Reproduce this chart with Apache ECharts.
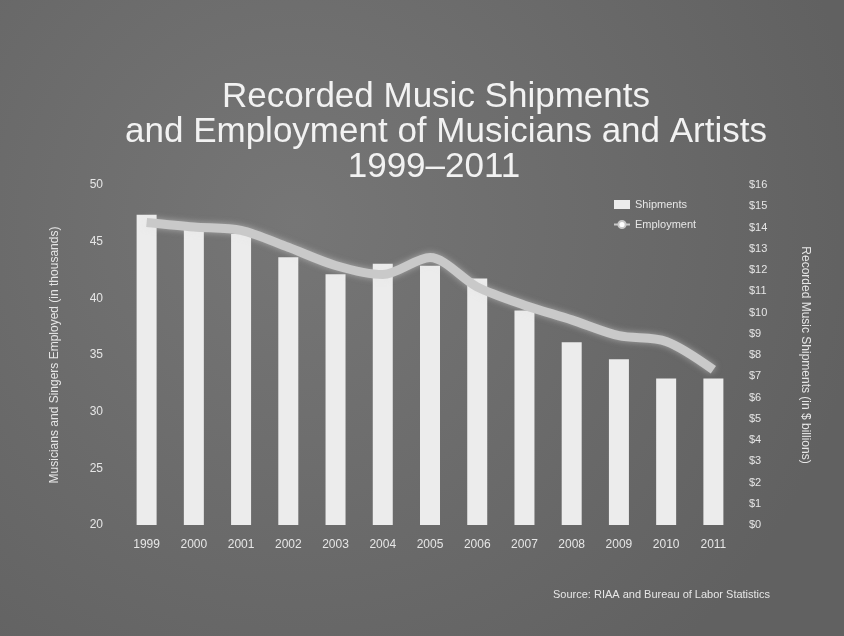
<!DOCTYPE html>
<html>
<head>
<meta charset="utf-8">
<script src="https://cdn.jsdelivr.net/npm/echarts@6/dist/echarts.min.js"></script>
<style>
  html, body { margin: 0; padding: 0; background: #6b6b6b; }
  #chart { width: 844px; height: 636px; }
</style>
</head>
<body>
<div id="chart"></div>
<script>
// Years on the category axis
const years = ['1999', '2000', '2001', '2002', '2003', '2004', '2005', '2006', '2007', '2008', '2009', '2010', '2011'];
// Recorded music shipments, $ billions (bars, right axis)
const shipments = [14.6, 14.0, 13.7, 12.6, 11.8, 12.3, 12.2, 11.6, 10.1, 8.6, 7.8, 6.9, 6.9];
// Employment of musicians and artists, thousands (line, left axis)
const employment = [46.7, 46.3, 46.0, 44.5, 42.9, 42.1, 43.6, 41.0, 39.4, 38.1, 36.7, 36.2, 33.7];

const titleLines = ['Recorded Music Shipments', 'and Employment of Musicians and Artists', '1999\u20132011'];
const sourceNote = 'Source: RIAA and Bureau of Labor Statistics';

const chart = echarts.init(document.getElementById('chart'), null, { renderer: 'canvas' });

const textColor = '#e6e6e6';
const fontFamily = '"Liberation Sans", Arial, sans-serif';

// Three centred heading lines
const headingCenters = [436, 446, 434];
const headingTops = [80, 115, 150];
const heading = titleLines.map((t, i) => ({
  type: 'text',
  x: headingCenters[i],
  y: headingTops[i],
  style: {
    text: t,
    align: 'center',
    verticalAlign: 'top',
    fill: '#f2f2f2',
    font: 'normal 35px ' + fontFamily
  }
}));

chart.setOption({
  backgroundColor: {
    type: 'radial', x: 0.35, y: 0.35, r: 0.9,
    colorStops: [{ offset: 0, color: '#767676' }, { offset: 1, color: '#616161' }]
  },
  animation: false,
  graphic: heading,
  title: [
    { text: sourceNote, left: 548, top: 584, textStyle: { color: textColor, fontSize: 11, fontWeight: 'normal', fontFamily } }
  ],
  legend: {
    orient: 'vertical',
    left: 608, top: 194,
    itemGap: 9,
    itemWidth: 16, itemHeight: 9,
    textStyle: { color: textColor, fontSize: 11, fontFamily },
    data: [
      { name: 'Shipments', icon: 'rect' },
      { name: 'Employment' }
    ]
  },
  grid: { left: 123, right: 107, top: 185, bottom: 111 },
  xAxis: {
    type: 'category',
    data: years,
    axisLine: { show: false },
    axisTick: { show: false },
    axisLabel: { color: textColor, fontSize: 12, margin: 14, fontFamily }
  },
  yAxis: [
    {
      type: 'value', min: 20, max: 50, interval: 5, position: 'left',
      name: 'Musicians and Singers Employed (in thousands)',
      nameLocation: 'middle', nameGap: 62, nameRotate: 90,
      nameTextStyle: { color: textColor, fontSize: 12, fontFamily },
      axisLine: { show: false }, axisTick: { show: false },
      splitLine: { show: false },
      axisLabel: { color: textColor, fontSize: 12, margin: 20, fontFamily }
    },
    {
      type: 'value', min: 0, max: 16, interval: 1, position: 'right',
      name: 'Recorded Music Shipments (in $ billions)',
      nameLocation: 'middle', nameGap: 62, nameRotate: -90,
      nameTextStyle: { color: textColor, fontSize: 12, fontFamily },
      axisLine: { show: false }, axisTick: { show: false },
      splitLine: { show: false },
      axisLabel: { color: textColor, fontSize: 11, margin: 12, fontFamily, formatter: v => '$' + v }
    }
  ],
  series: [
    {
      name: 'Shipments',
      type: 'bar',
      yAxisIndex: 1,
      data: shipments,
      barWidth: 20,
      itemStyle: { color: '#ececec' },
      z: 2
    },
    {
      name: 'Employment',
      type: 'line',
      yAxisIndex: 0,
      data: employment,
      smooth: 0.3,
      showSymbol: false,
      lineStyle: {
        color: '#c9c9c9', width: 9,
        shadowColor: 'rgba(230,230,230,0.5)', shadowBlur: 6
      },
      itemStyle: { color: '#c9c9c9' },
      z: 3
    }
  ]
});
</script>
</body>
</html>
